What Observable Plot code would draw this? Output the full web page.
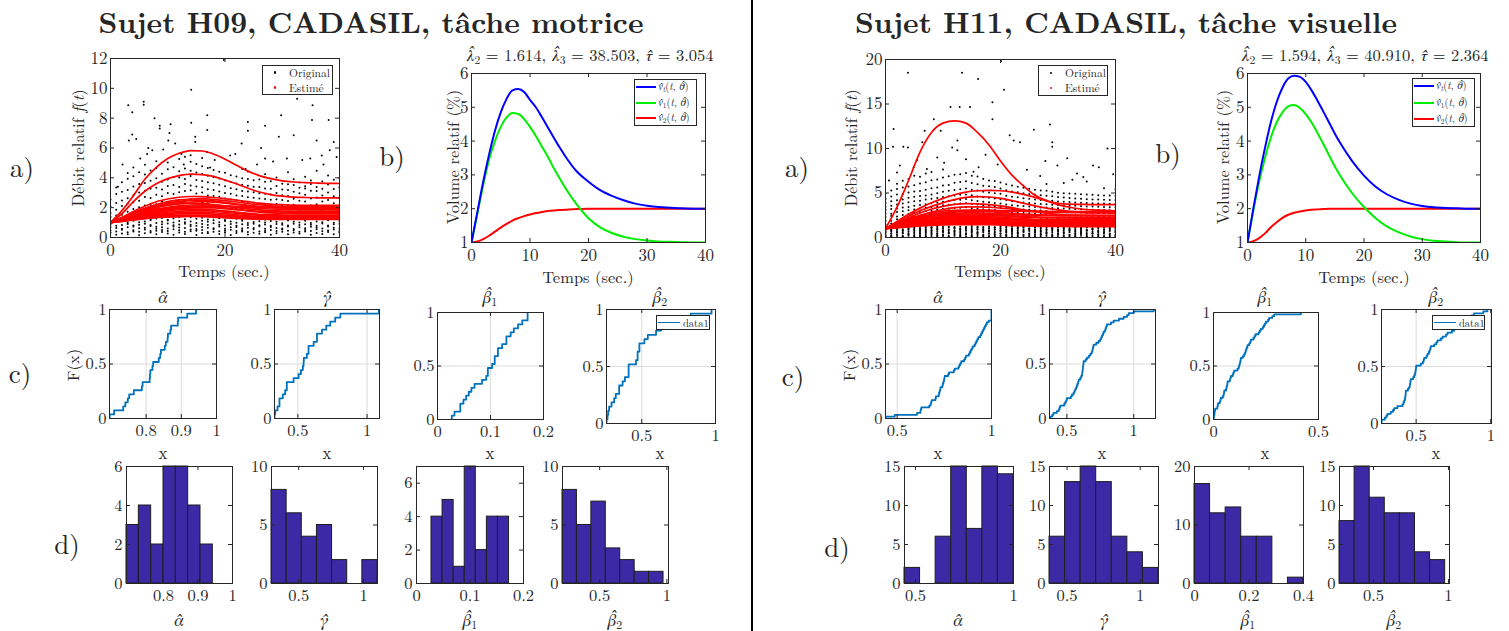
<!DOCTYPE html>
<html><head><meta charset="utf-8">
<script src="https://cdn.jsdelivr.net/npm/d3@7"></script>
<script src="https://cdn.jsdelivr.net/npm/@observablehq/plot@0.6"></script>
<style>
body{margin:0;background:#fff;}
#fig{position:relative;width:1509px;height:631px;overflow:hidden;background:#fff;font-family:"Latin Modern Roman","Liberation Serif",serif;color:#262626}
#fig div{position:absolute;white-space:nowrap;line-height:1;font-family:"Latin Modern Roman","Liberation Serif",serif}
sub{font-size:70%;vertical-align:-0.25em;line-height:0}
.g{font-family:FreeSerif,"DejaVu Serif",serif;font-style:italic}
</style></head><body><div id="fig"></div>
<script>
// ---------------- DATA ----------------
const titleLeft = "Sujet H09, CADASIL, tâche motrice";
const titleRight = "Sujet H11, CADASIL, tâche visuelle";

// a) scatter columns (time in s) and values
const tCols = [0,1,2,3,4,5,6,7,8,9,10,11,12,13,14,15,16,17,18,19,20,21,22,23,24,25,26,27,28,29,30,31,32,33,34,35,36,37,38,39,40];
const blackColsL = [
"0.32 0.47 0.71 0.88 0.96 1.12 1.38 1.64 2.07 2.55","0.18 0.41 0.63 0.79 1.04 1.21 1.47 1.86 2.31 2.92 3.36","0.27 0.52 0.58 0.83 1.09 1.17 1.52 2.12 2.48 3.07 3.71",
"0.22 0.36 0.68 0.91 0.99 1.26 1.73 2.26 2.63 3.18 3.94 4.32","0.41 0.49 0.74 0.81 1.13 1.29 1.91 2.37 2.84 3.42 4.11","0.15 0.38 0.62 0.86 1.02 1.24 2.02 2.46 3.02 3.58 4.38",
"0.29 0.54 0.66 0.93 1.07 1.33 2.14 2.71 3.13 3.66 4.22 4.87","0.34 0.43 0.77 0.84 1.16 1.22 2.19 2.64 3.27 3.81 4.49","0.21 0.46 0.59 0.72 0.97 1.28 2.23 2.86 3.33 3.97 4.64 5.12",
"0.37 0.51 0.69 0.89 1.06 1.31 2.41 2.77 3.21 3.74 4.28","0.26 0.44 0.61 0.94 1.14 1.19 2.36 2.98 3.46 3.89 4.57 5.03","0.19 0.55 0.73 0.82 1.01 1.27 2.29 2.91 3.52 4.06 4.71",
"0.33 0.48 0.67 0.87 1.11 1.35 2.52 3.04 3.38 4.02 4.44 5.26","0.24 0.39 0.64 0.92 1.03 1.23 2.44 3.11 3.58 3.93 4.62 5.41","0.42 0.53 0.76 0.85 1.08 1.36 2.58 3.17 3.49 4.13 4.48 5.08 5.52",
"0.17 0.45 0.57 0.78 0.98 1.25 2.47 2.95 3.42 3.86 4.35 4.92","0.31 0.5 0.7 0.9 1.12 1.32 2.33 3.01 3.37 3.79 4.26 4.78 5.33","0.28 0.37 0.65 0.83 1.05 1.21 2.28 2.82 3.24 3.71 4.14 4.66",
"0.39 0.56 0.62 0.95 1.15 1.34 2.17 2.79 3.19 3.63 4.04 4.52","0.23 0.42 0.74 0.86 1.02 1.29 2.09 2.73 3.08 3.54 3.96 4.41","0.35 0.47 0.58 0.81 1.1 1.18 2.06 2.61 2.99 3.44 3.83 4.34",
"0.16 0.52 0.68 0.91 1.07 1.37 1.96 2.54 2.93 3.31 3.72 4.18","0.3 0.44 0.71 0.79 0.99 1.26 1.93 2.49 2.81 3.23 3.62 4.09","0.4 0.49 0.6 0.88 1.13 1.2 1.84 2.43 2.78 3.12 3.53 3.98 4.6",
"0.2 0.37 0.66 0.84 0.97 1.3 1.81 2.38 2.69 3.09 3.47 3.92 4.43","0.32 0.55 0.63 0.93 1.04 1.24 1.78 2.33 2.66 3.03 3.41 3.84","0.25 0.4 0.75 0.82 1.09 1.33 1.72 2.27 2.62 2.97 3.38 3.89",
"0.36 0.46 0.59 0.87 1.0 1.19 1.69 2.21 2.58 2.94 3.29 3.73 4.24","0.18 0.51 0.7 0.78 1.11 1.28 1.74 2.18 2.53 2.88 3.26 3.77","0.29 0.43 0.64 0.9 1.05 1.35 1.63 2.24 2.57 2.99 3.45 4.02",
"0.38 0.53 0.61 0.85 0.96 1.22 1.67 2.16 2.51 2.83 3.21 3.61","0.22 0.45 0.73 0.8 1.14 1.31 1.71 2.11 2.44 2.79 3.18 3.57 4.37","0.34 0.48 0.57 0.92 1.06 1.25 1.62 2.19 2.59 3.06 3.52 3.91",
"0.27 0.39 0.69 0.83 1.01 1.34 1.77 2.13 2.47 2.96 3.34 3.69","0.41 0.5 0.62 0.89 1.12 1.21 1.68 2.06 2.42 2.86 3.28 3.43 4.08","0.19 0.44 0.72 0.86 0.98 1.29 1.61 2.14 2.61 3.14 3.59 3.82",
"0.31 0.56 0.67 0.79 1.08 1.36 1.73 2.23 2.68 3.11 3.39 4.47","0.24 0.42 0.6 0.94 1.03 1.23 1.79 2.04 2.41 2.82 3.27 3.76","0.37 0.47 0.74 0.81 1.15 1.27 1.64 2.09 2.52 3.01 3.56 4.16",
"0.21 0.53 0.65 0.88 0.99 1.32 1.69 2.29 2.77 3.25 3.87","0.33 0.41 0.58 0.91 1.1 1.24 1.76 2.17 2.64 3.36 3.97"];
const blackOutL = [[1.3,3.4],[2.1,4.9],[3.1,8.87],[3.8,8.4],[3.2,6.5],[3.8,6.9],[4.0,4.7],[4.5,6.6],[5.2,5.3],[5.8,9.1],[5.8,8.9],[6.4,5.6],[6.6,6.0],[7.3,5.85],[7.7,8.0],[8.6,7.5],[8.6,7.3],[9.2,5.9],[10.1,6.5],[10.3,7.0],[10.5,7.6],[11.3,6.3],[12.4,5.6],[12.8,4.9],[14.1,9.9],[14.1,7.7],[14.8,6.75],[14.8,6.4],[16.9,8.2],[16.9,7.2],[16.9,5.74],[17.4,4.7],[18.2,5.2],[19.8,11.9],[20.9,5.5],[21.8,5.6],[22.9,6.3],[23.6,4.6],[24.0,7.15],[24.0,7.75],[25.6,4.9],[26.3,6.0],[27.0,7.5],[27.0,5.3],[28.4,5.1],[29.4,6.75],[29.8,8.2],[30.8,5.3],[32.0,6.86],[32.6,9.3],[33.5,5.2],[34.9,5.3],[35.2,7.87],[35.3,8.87],[36.0,6.5],[36.9,5.5],[37.2,4.9],[38.1,7.87],[38.3,5.85],[39.0,6.4],[39.5,5.4]];

const blackColsR = [
"0.08 0.23 0.31 0.52 0.64 0.77 0.93 1.06 1.18 1.47 1.92 2.28 2.71 3.12 3.49 3.87 4.36 4.95",
"0.13 0.19 0.42 0.48 0.69 0.81 0.88 1.11 1.24 1.56 1.87 2.41 2.66 3.19 3.58 4.07 4.62 5.28",
"0.06 0.27 0.37 0.58 0.61 0.84 0.97 1.03 1.21 1.63 2.04 2.37 2.86 3.27 3.71 4.18 4.83 5.46 6.04",
"0.11 0.16 0.44 0.53 0.72 0.79 0.91 1.13 1.17 1.74 2.12 2.53 2.94 3.36 3.83 4.26 4.88 5.62 6.37",
"0.04 0.29 0.34 0.47 0.67 0.86 0.95 1.08 1.26 1.81 2.17 2.64 3.07 3.44 3.96 4.47 5.07 5.73 6.58",
"0.14 0.21 0.39 0.56 0.74 0.83 0.99 1.14 1.22 1.94 2.33 2.77 3.14 3.57 4.06 4.58 5.16 5.87 6.94",
"0.09 0.25 0.41 0.49 0.62 0.76 0.89 1.02 1.19 2.03 2.42 2.83 3.26 3.66 4.14 4.67 5.23 6.07 6.83",
"0.12 0.18 0.36 0.54 0.68 0.82 0.92 1.09 1.23 2.11 2.47 2.96 3.34 3.74 4.27 4.73 5.36 6.21 7.18",
"0.05 0.28 0.43 0.57 0.73 0.78 0.96 1.12 1.16 2.18 2.63 3.04 3.43 3.86 4.34 4.84 5.52 6.43 7.36",
"0.15 0.22 0.38 0.46 0.66 0.87 0.94 1.07 1.25 2.24 2.68 3.13 3.52 3.94 4.43 4.96 5.63 6.52",
"0.07 0.26 0.33 0.59 0.71 0.8 0.98 1.04 1.2 2.31 2.74 3.21 3.61 4.03 4.54 5.13 5.84 6.74 7.63",
"0.1 0.17 0.45 0.51 0.63 0.85 0.9 1.15 1.24 2.34 2.84 3.23 3.68 4.12 4.63 5.24 5.91 6.88",
"0.03 0.24 0.4 0.55 0.7 0.77 0.97 1.1 1.18 2.43 2.86 3.31 3.73 4.21 4.72 5.33 6.14 7.04",
"0.13 0.2 0.35 0.5 0.65 0.84 0.93 1.01 1.22 2.38 2.92 3.34 3.81 4.23 4.81 5.42 6.23 7.12",
"0.08 0.3 0.42 0.48 0.75 0.81 0.99 1.13 1.17 2.46 2.94 3.39 3.84 4.32 4.83 5.51 6.31 7.24",
"0.12 0.19 0.37 0.56 0.67 0.79 0.91 1.06 1.26 2.32 2.81 3.28 3.77 4.18 4.74 5.37 6.12 6.93",
"0.06 0.27 0.44 0.52 0.61 0.86 0.95 1.14 1.21 2.29 2.77 3.24 3.72 4.09 4.62 5.29 5.98 6.84",
"0.14 0.23 0.32 0.58 0.72 0.83 0.88 1.08 1.19 2.21 2.72 3.17 3.62 4.02 4.53 5.14 5.82 6.57",
"0.09 0.16 0.41 0.47 0.69 0.76 0.98 1.03 1.24 2.16 2.69 3.16 3.58 3.97 4.48 5.06 5.77 6.41",
"0.11 0.28 0.36 0.53 0.64 0.88 0.92 1.11 1.16 2.23 2.66 3.09 3.49 3.88 4.37 4.98 5.68 6.36",
"0.04 0.21 0.43 0.49 0.74 0.8 0.96 1.07 1.23 2.08 2.58 2.97 3.39 3.82 4.29 4.91 5.51 6.17",
"0.15 0.25 0.34 0.57 0.66 0.78 0.94 1.12 1.2 2.12 2.49 2.93 3.32 3.71 4.22 4.68 5.32 5.97",
"0.07 0.18 0.39 0.51 0.71 0.85 0.9 1.05 1.25 1.98 2.46 2.87 3.29 3.63 4.07 4.59 5.18 5.83",
"0.1 0.29 0.45 0.54 0.62 0.82 0.97 1.09 1.18 2.02 2.38 2.81 3.21 3.57 3.99 4.52 5.09 5.71",
"0.05 0.22 0.31 0.59 0.68 0.79 0.93 1.15 1.22 1.91 2.36 2.76 3.14 3.54 3.92 4.41 4.97 5.58",
"0.13 0.26 0.42 0.46 0.73 0.87 0.99 1.02 1.24 1.94 2.29 2.72 3.11 3.47 3.89 4.36 4.88 5.47",
"0.08 0.17 0.37 0.55 0.65 0.81 0.89 1.13 1.17 1.86 2.27 2.66 3.06 3.42 3.82 4.28 4.82 5.36",
"0.12 0.3 0.33 0.5 0.7 0.77 0.95 1.06 1.21 1.83 2.22 2.63 3.02 3.38 3.77 4.21 4.74 5.27",
"0.03 0.24 0.44 0.52 0.63 0.84 0.91 1.1 1.26 1.79 2.19 2.61 2.98 3.36 3.74 4.17 4.68 5.24 6.02",
"0.14 0.2 0.35 0.57 0.74 0.86 0.98 1.04 1.19 1.84 2.23 2.57 2.93 3.31 3.69 4.12 4.63 5.13",
"0.06 0.28 0.4 0.48 0.67 0.78 0.92 1.14 1.23 1.77 2.14 2.54 2.91 3.28 3.66 4.04 4.54 5.04",
"0.11 0.19 0.43 0.53 0.61 0.82 0.96 1.08 1.16 1.73 2.16 2.51 2.87 3.26 3.61 4.01 4.49 4.98 6.12",
"0.09 0.25 0.32 0.58 0.72 0.85 0.9 1.01 1.25 1.76 2.11 2.48 2.86 3.22 3.58 3.98 4.43 4.94",
"0.15 0.21 0.38 0.47 0.66 0.79 0.94 1.12 1.2 1.71 2.08 2.46 2.83 3.18 3.56 3.94 4.39 4.92",
"0.04 0.27 0.41 0.56 0.69 0.83 0.99 1.07 1.18 1.68 2.06 2.44 2.81 3.17 3.52 3.91 4.36 4.87",
"0.12 0.16 0.36 0.51 0.75 0.8 0.88 1.11 1.22 1.72 2.09 2.43 2.78 3.14 3.49 3.87 4.31 4.83 6.28",
"0.07 0.23 0.45 0.49 0.64 0.87 0.93 1.03 1.24 1.66 2.04 2.41 2.77 3.12 3.48 3.84 4.28 4.79",
"0.1 0.29 0.34 0.54 0.71 0.76 0.97 1.15 1.19 1.69 2.07 2.38 2.74 3.09 3.46 3.83 4.26 4.76",
"0.05 0.18 0.42 0.59 0.63 0.84 0.91 1.09 1.21 1.64 2.02 2.39 2.73 3.08 3.43 3.81 4.23 4.72 5.52",
"0.13 0.26 0.39 0.46 0.73 0.81 0.95 1.06 1.17 1.67 2.03 2.36 2.71 3.06 3.41 3.78 4.21 4.71",
"0.08 0.2 0.31 0.57 0.66 0.78 0.98 1.13 1.26 1.63 1.99 2.34 2.69 3.04 3.39 3.76 4.19 4.68 5.41"];
const blackOutR = [[3.9,18.5],[13.3,18.5],[16.1,17.8],[20.6,16.6],[20.1,19.8],[18.6,15.2],[12.9,14.65],[11.3,14.65],[14.7,14.65],[8.4,13.3],[18.6,13.3],[6.8,12.0],[9.6,12.0],[25.8,12.1],[28.6,12.7],[1.4,12.2],[1.3,10.2],[3.1,10.2],[3.9,10.1],[2.5,8.1],[11.6,10.1],[12.5,10.9],[12.5,9.8],[21.6,11.5],[22.3,10.9],[23.4,10.7],[29.0,10.7],[29.0,10.2],[38.6,10.0],[29.9,8.1],[31.6,8.9],[36.1,8.1],[37.1,7.9],[33.3,7.2],[5.5,8.7],[4.9,7.9],[7.2,7.7],[16.2,7.9],[6.4,10.7],[9.0,9.0],[10.2,8.4],[14.0,8.8],[15.3,7.4],[17.4,9.3],[19.5,8.2],[24.6,7.6],[26.9,6.9],[34.4,6.8],[39.6,7.1],[2.0,7.3],[0.6,6.4],[27.8,8.6],[32.5,6.5]];

// a) estimated curves, sampled every 2 s
const tCurve = [0,2,4,6,8,10,12,14,16,18,20,22,24,26,28,30,32,34,36,38,40];
const redCurvesL = [
[1.0,1.8,2.8,3.9,4.7,5.3,5.65,5.83,5.8,5.6,5.25,4.85,4.45,4.15,3.95,3.8,3.72,3.68,3.65,3.63,3.62],
[1.0,1.6,2.4,3.1,3.6,3.95,4.15,4.25,4.22,4.1,3.85,3.6,3.3,3.05,2.88,2.77,2.71,2.68,2.66,2.65,2.65],
[1.0,1.35,1.75,2.1,2.4,2.58,2.7,2.75,2.74,2.68,2.6,2.5,2.4,2.3,2.24,2.2,2.17,2.16,2.15,2.15,2.15],
[1.0,1.3,1.65,1.95,2.2,2.4,2.52,2.58,2.6,2.55,2.47,2.38,2.28,2.2,2.13,2.09,2.07,2.06,2.05,2.05,2.05],
[1.0,1.28,1.58,1.85,2.07,2.23,2.33,2.38,2.4,2.37,2.3,2.22,2.14,2.07,2.02,1.98,1.96,1.95,1.95,1.95,1.95],
[1.0,1.27,1.55,1.8,2.0,2.15,2.25,2.3,2.28,2.2,2.1,2.0,1.92,1.85,1.8,1.77,1.76,1.75,1.75,1.75,1.75],
[1.0,1.25,1.5,1.72,1.9,2.03,2.12,2.18,2.2,2.18,2.13,2.06,2.0,1.95,1.91,1.88,1.86,1.85,1.85,1.85,1.85],
[1.0,1.22,1.45,1.65,1.82,1.95,2.04,2.09,2.1,2.06,1.98,1.88,1.78,1.7,1.65,1.62,1.61,1.6,1.6,1.6,1.6],
[1.0,1.2,1.42,1.6,1.76,1.88,1.95,1.99,2.0,1.98,1.93,1.86,1.8,1.76,1.73,1.71,1.7,1.7,1.7,1.7,1.7],
[1.0,1.18,1.37,1.54,1.68,1.79,1.86,1.9,1.9,1.86,1.79,1.7,1.62,1.56,1.53,1.51,1.5,1.5,1.5,1.5,1.5],
[1.0,1.16,1.32,1.47,1.6,1.7,1.76,1.8,1.8,1.77,1.7,1.62,1.55,1.5,1.47,1.46,1.45,1.45,1.45,1.45,1.45],
[1.0,1.14,1.28,1.42,1.53,1.62,1.67,1.7,1.7,1.66,1.6,1.52,1.45,1.41,1.38,1.36,1.35,1.35,1.35,1.35,1.35],
[1.0,1.12,1.25,1.37,1.47,1.54,1.58,1.6,1.6,1.57,1.5,1.43,1.37,1.33,1.31,1.3,1.3,1.3,1.3,1.3,1.3],
[1.0,1.1,1.22,1.32,1.4,1.46,1.49,1.5,1.5,1.47,1.41,1.36,1.31,1.28,1.26,1.25,1.25,1.25,1.25,1.25,1.25],
[1.0,1.08,1.18,1.27,1.34,1.38,1.4,1.41,1.4,1.37,1.32,1.28,1.25,1.23,1.22,1.22,1.22,1.22,1.22,1.22,1.22],
[1.0,1.1,1.2,1.28,1.34,1.38,1.41,1.43,1.44,1.44,1.43,1.42,1.41,1.4,1.4,1.4,1.4,1.4,1.4,1.4,1.4],
[1.0,1.2,1.4,1.6,1.75,1.87,1.96,2.03,2.08,2.1,2.1,2.08,2.06,2.04,2.02,2.01,2.0,2.0,2.0,2.0,2.0],
[1.0,1.3,1.62,1.9,2.12,2.3,2.42,2.5,2.5,2.45,2.35,2.24,2.15,2.08,2.03,2.0,1.98,1.97,1.97,1.96,1.96]];
const redCurvesR = [
[1.0,3.4,6.4,9.6,11.8,12.85,13.1,12.85,11.8,10.4,8.6,7.0,5.8,4.75,4.15,3.85,3.75,3.72,3.7,3.7,3.7],
[1.0,1.8,2.6,3.3,3.9,4.4,4.8,5.1,5.25,5.3,5.25,5.1,4.85,4.5,4.1,3.7,3.4,3.2,3.1,3.05,3.0],
[1.0,1.7,2.4,3.0,3.5,3.9,4.25,4.5,4.6,4.55,4.4,4.15,3.85,3.55,3.3,3.1,2.95,2.85,2.8,2.78,2.77],
[1.0,1.6,2.2,2.75,3.2,3.5,3.72,3.8,3.78,3.7,3.55,3.35,3.1,2.9,2.72,2.6,2.52,2.5,2.48,2.47,2.47],
[1.0,1.6,2.1,2.5,2.8,2.97,3.05,3.08,3.08,3.05,3.0,2.97,2.95,2.93,2.92,2.91,2.9,2.9,2.9,2.9,2.9],
[1.0,1.5,1.95,2.3,2.6,2.8,2.9,2.95,2.95,2.9,2.82,2.72,2.63,2.56,2.52,2.5,2.49,2.48,2.48,2.48,2.48],
[1.0,1.45,1.85,2.2,2.45,2.62,2.72,2.76,2.76,2.72,2.65,2.58,2.52,2.48,2.45,2.43,2.42,2.42,2.42,2.42,2.42],
[1.0,1.4,1.78,2.1,2.35,2.5,2.6,2.64,2.64,2.6,2.52,2.43,2.35,2.28,2.23,2.2,2.19,2.18,2.18,2.18,2.18],
[1.0,1.35,1.7,2.0,2.22,2.38,2.48,2.52,2.52,2.48,2.42,2.35,2.3,2.26,2.24,2.23,2.22,2.22,2.22,2.22,2.22],
[1.0,1.3,1.62,1.9,2.1,2.25,2.34,2.38,2.38,2.34,2.27,2.19,2.11,2.05,2.01,1.99,1.98,1.97,1.97,1.97,1.97],
[1.0,1.28,1.55,1.8,2.0,2.13,2.21,2.25,2.25,2.21,2.14,2.06,1.99,1.94,1.91,1.9,1.89,1.89,1.89,1.89,1.89],
[1.0,1.25,1.5,1.72,1.9,2.02,2.1,2.13,2.13,2.1,2.04,1.97,1.9,1.85,1.82,1.8,1.8,1.8,1.8,1.8,1.8],
[1.0,1.22,1.44,1.64,1.8,1.91,1.98,2.01,2.01,1.98,1.92,1.85,1.78,1.73,1.7,1.68,1.67,1.67,1.67,1.67,1.67],
[1.0,1.2,1.4,1.57,1.71,1.81,1.87,1.9,1.9,1.87,1.81,1.74,1.68,1.63,1.6,1.58,1.57,1.57,1.57,1.57,1.57],
[1.0,1.17,1.34,1.5,1.62,1.71,1.76,1.78,1.78,1.75,1.7,1.63,1.57,1.52,1.49,1.47,1.46,1.46,1.46,1.46,1.46],
[1.0,1.14,1.28,1.41,1.52,1.6,1.65,1.67,1.67,1.64,1.58,1.52,1.46,1.42,1.39,1.37,1.36,1.36,1.36,1.36,1.36],
[1.0,1.12,1.24,1.35,1.44,1.5,1.54,1.56,1.56,1.53,1.48,1.42,1.37,1.33,1.3,1.29,1.28,1.28,1.28,1.28,1.28],
[1.0,1.1,1.2,1.29,1.36,1.41,1.44,1.45,1.45,1.43,1.39,1.34,1.3,1.27,1.25,1.24,1.23,1.23,1.23,1.23,1.23],
[1.0,1.4,1.8,2.15,2.45,2.7,2.88,3.0,3.05,3.05,3.02,2.98,2.95,2.92,2.9,2.88,2.87,2.86,2.86,2.86,2.86],
[1.0,1.5,2.0,2.45,2.85,3.15,3.35,3.45,3.45,3.4,3.3,3.18,3.05,2.95,2.88,2.83,2.8,2.78,2.77,2.77,2.77]];

// b) volume curves
const tB = [0,1,2,3,4,5,6,7,8,9,10,11,12,13,14,15,16,18,20,22,24,26,28,30,32,34,36,38,40];
const bL_vt = [1.0,1.9,2.8,3.6,4.3,4.85,5.25,5.5,5.54,5.45,5.22,5.0,4.72,4.42,4.12,3.83,3.56,3.1,2.8,2.55,2.38,2.25,2.15,2.09,2.05,2.03,2.01,2.0,2.0];
const bL_v1 = [1.0,1.85,2.7,3.45,4.0,4.42,4.7,4.83,4.8,4.65,4.42,4.15,3.85,3.55,3.22,2.92,2.63,2.12,1.72,1.45,1.28,1.17,1.1,1.06,1.03,1.02,1.01,1.0,1.0];
const bL_v2 = [1.0,1.03,1.1,1.2,1.32,1.44,1.55,1.65,1.72,1.78,1.83,1.87,1.9,1.93,1.95,1.96,1.97,1.99,2.0,2.0,2.0,2.0,2.0,2.0,2.0,2.0,2.0,2.0,2.0];
const bR_vt = [1.0,2.0,2.95,3.8,4.55,5.15,5.58,5.85,5.93,5.9,5.75,5.5,5.2,4.88,4.55,4.22,3.92,3.4,2.98,2.65,2.42,2.26,2.15,2.08,2.04,2.02,2.01,2.0,2.0];
const bR_v1 = [1.0,1.95,2.8,3.5,4.1,4.55,4.85,5.03,5.07,4.98,4.8,4.55,4.25,3.92,3.58,3.25,2.95,2.45,2.05,1.72,1.47,1.3,1.18,1.1,1.05,1.03,1.01,1.0,1.0];
const bR_v2 = [1.0,1.04,1.13,1.27,1.45,1.6,1.73,1.82,1.88,1.92,1.95,1.97,1.98,1.99,2.0,2.0,2.0,2.0,2.0,2.0,2.0,2.0,2.0,2.0,2.0,2.0,2.0,2.0,2.0];
const paramsL = ["1.614","38.503","3.054"];
const paramsR = ["1.594","40.910","2.364"];

// c) estimated parameter samples (empirical CDF)
const sL_alpha = [0.696,0.709,0.735,0.741,0.748,0.752,0.765,0.788,0.790,0.810,0.811,0.812,0.818,0.820,0.836,0.840,0.842,0.853,0.856,0.861,0.862,0.869,0.871,0.890,0.891,0.917,0.942];
const sL_gamma = [0.331,0.336,0.353,0.367,0.367,0.391,0.408,0.42,0.42,0.469,0.505,0.522,0.536,0.541,0.543,0.565,0.577,0.577,0.614,0.638,0.638,0.674,0.705,0.734,0.77,0.807,1.085];
const sL_beta1 = [0.027,0.032,0.043,0.043,0.049,0.054,0.059,0.064,0.070,0.084,0.092,0.095,0.095,0.103,0.108,0.108,0.114,0.114,0.122,0.130,0.130,0.138,0.144,0.152,0.160,0.170,0.170];
const sL_beta2 = [0.261,0.268,0.272,0.279,0.295,0.313,0.324,0.347,0.347,0.370,0.386,0.411,0.411,0.411,0.461,0.472,0.472,0.484,0.484,0.518,0.541,0.597,0.632,0.68,0.734,0.832,0.973];
const sR_alpha = [0.438,0.487,0.605,0.623,0.625,0.628,0.67,0.677,0.68,0.683,0.703,0.705,0.72,0.722,0.725,0.728,0.73,0.74,0.742,0.745,0.748,0.75,0.752,0.77,0.775,0.8,0.805,0.825,0.83,0.835,0.84,0.855,0.86,0.865,0.88,0.885,0.89,0.895,0.9,0.91,0.915,0.92,0.925,0.93,0.94,0.945,0.95,0.955,0.96,0.965,0.97,0.975,0.985,1.0,1.0,1.0,1.0,1.0,1.0];
const sR_gamma = [0.375,0.39,0.40,0.425,0.44,0.445,0.45,0.48,0.488,0.495,0.5,0.53,0.538,0.55,0.557,0.563,0.57,0.575,0.58,0.585,0.588,0.6,0.607,0.613,0.615,0.617,0.619,0.62,0.622,0.624,0.625,0.64,0.65,0.665,0.675,0.685,0.69,0.693,0.697,0.70,0.72,0.738,0.75,0.757,0.763,0.77,0.775,0.785,0.79,0.795,0.80,0.83,0.85,0.89,0.925,0.95,0.963,1.0,1.15];
const sR_beta1 = [0.0,0.002,0.004,0.005,0.006,0.008,0.018,0.02,0.022,0.03,0.033,0.035,0.045,0.048,0.05,0.051,0.06,0.062,0.064,0.066,0.067,0.078,0.08,0.083,0.092,0.095,0.098,0.114,0.12,0.122,0.125,0.127,0.129,0.13,0.14,0.146,0.15,0.153,0.156,0.159,0.162,0.17,0.175,0.178,0.19,0.195,0.2,0.215,0.22,0.225,0.235,0.24,0.245,0.25,0.26,0.265,0.28,0.289,0.416];
const sR_beta2 = [0.268,0.27,0.29,0.3,0.308,0.33,0.345,0.353,0.375,0.409,0.415,0.42,0.425,0.427,0.429,0.43,0.431,0.445,0.453,0.458,0.46,0.462,0.464,0.48,0.487,0.492,0.495,0.497,0.499,0.5,0.531,0.545,0.55,0.554,0.57,0.576,0.585,0.59,0.595,0.598,0.621,0.635,0.643,0.665,0.677,0.7,0.71,0.74,0.755,0.765,0.777,0.8,0.815,0.83,0.844,0.87,0.888,0.95,0.978];

// d) histograms: bin range and counts
const hL_alpha_range = [0.693,0.943], hL_alpha = [3,4,2,6,6,4,2];
const hL_gamma_range = [0.29,1.108],  hL_gamma = [8,6,4,5,2,0,2];
const hL_beta1_range = [0.028,0.173], hL_beta1 = [4,5,1,7,2,4,4];
const hL_beta2_range = [0.224,0.975], hL_beta2 = [8,5,7,3,2,1,1];
const hR_alpha_range = [0.444,1.0],   hR_alpha = [2,0,6,15,7,15,14];
const hR_gamma_range = [0.38,1.125],  hR_gamma = [6,13,15,13,6,4,2];
const hR_beta1_range = [0.0,0.4],     hR_beta1 = [17,12,13,8,8,0,1];
const hR_beta2_range = [0.273,0.978], hR_beta2 = [8,15,11,9,9,4,3];

// ---------------- DRAWING ----------------
const FONT = '"Latin Modern Roman","Liberation Serif",serif';
const AX = "#262626";
const HIST = "#3b29a6";
const CDFC = "#0072BD";
const fig = document.getElementById("fig");
const fmt = d => String(d);
const hat = (ch, sub) => `<span class="g">${ch}\u0302</span>` + (sub ? `<sub>${sub}</sub>` : "");

function panel(box, o) {
  const [x0,y0,x1,y1] = box, W = x1-x0, H = y1-y0;
  const m = {l:55, r:15, t:15, b:45};
  const [xa,xb] = o.x, [ya,yb] = o.y;
  const tx = 4*(xb-xa)/W, ty = 4*(yb-ya)/H;
  const marks = [];
  if (o.grid) {
    marks.push(Plot.ruleX(o.xt, {x:d=>d, stroke:"#dcdcdc"}));
    marks.push(Plot.ruleY(o.yt, {y:d=>d, stroke:"#dcdcdc"}));
  }
  marks.push(...o.marks);
  marks.push(Plot.ruleX(o.xt, {x:d=>d, y1:ya, y2:ya+ty, stroke:AX}));
  marks.push(Plot.ruleX(o.xt, {x:d=>d, y1:yb, y2:yb-ty, stroke:AX}));
  marks.push(Plot.ruleY(o.yt, {y:d=>d, x1:xa, x2:xa+tx, stroke:AX}));
  marks.push(Plot.ruleY(o.yt, {y:d=>d, x1:xb, x2:xb-tx, stroke:AX}));
  marks.push(Plot.frame({stroke:AX, strokeWidth:1}));
  marks.push(Plot.axisX(o.xt, {tickSize:0, tickPadding:o.px ?? 6, tickFormat:fmt, label:null, fontSize:o.fs, fontFamily:FONT, fill:AX}));
  marks.push(Plot.axisY(o.yt, {tickSize:0, tickPadding:o.py ?? 4, tickFormat:fmt, label:null, fontSize:o.fs, fontFamily:FONT, fill:AX}));
  const svg = Plot.plot({
    width: W+m.l+m.r, height: H+m.t+m.b,
    marginLeft:m.l, marginRight:m.r, marginTop:m.t, marginBottom:m.b,
    x:{domain:o.x}, y:{domain:o.y},
    style:{"font-family":FONT, "font-size":o.fs+"px", "color":AX, "background":"transparent", "overflow":"visible", "max-width":"none"},
    marks
  });
  svg.setAttribute("font-family", FONT);
  svg.style.position = "absolute";
  svg.style.left = (x0-m.l)+"px";
  svg.style.top = (y0-m.t)+"px";
  svg.style.maxWidth = "none";
  svg.style.fontFamily = FONT;
  fig.appendChild(svg);
}

function txt(html, cx, cy, o = {}) {
  const d = document.createElement("div");
  d.innerHTML = html;
  d.style.left = cx+"px"; d.style.top = cy+"px";
  d.style.transform = `translate(-50%,-50%) rotate(${o.rot||0}deg)`;
  d.style.fontSize = (o.size||17)+"px";
  d.style.fontWeight = o.weight || "normal";
  fig.appendChild(d);
  return d;
}
function box(x0,y0,x1,y1) {
  const d = document.createElement("div");
  d.style.cssText = `left:${x0}px;top:${y0}px;width:${x1-x0}px;height:${y1-y0}px;border:1px solid ${AX};background:#fff;box-sizing:border-box`;
  fig.appendChild(d);
}
function lineGlyph(x0,x1,y,color,w=2) {
  const d = document.createElement("div");
  d.style.cssText = `left:${x0}px;top:${y-w/2}px;width:${x1-x0}px;height:${w}px;background:${color}`;
  fig.appendChild(d);
}
function dotGlyph(x,y,color) {
  const d = document.createElement("div");
  d.style.cssText = `left:${x-1.2}px;top:${y-1.2}px;width:2.4px;height:2.4px;border-radius:50%;background:${color}`;
  fig.appendChild(d);
}
function ltxt(html, x, cy, size) {
  const d = document.createElement("div");
  d.innerHTML = html;
  d.style.left = x+"px"; d.style.top = cy+"px";
  d.style.transform = "translateY(-50%)";
  d.style.fontSize = size+"px";
  fig.appendChild(d);
}

const scatterPts = (cols, outs) => cols.flatMap((s,i) => s.split(" ").map(v => ({t:tCols[i], v:+v})))
  .concat(outs.map(([t,v]) => ({t, v})));
const curvePts = curves => curves.flatMap((c,k) => c.map((v,i) => ({t:tCurve[i], v, k})));
const cdfPts = vals => { const s = vals.slice().sort((a,b)=>a-b), n = s.length;
  return [{x:s[0], y:0}].concat(s.map((v,i) => ({x:v, y:(i+1)/n}))); };
const binsOf = (range, counts) => { const [lo,hi] = range, w = (hi-lo)/counts.length;
  return counts.map((c,i) => ({x1:lo+i*w, x2:lo+(i+1)*w, c})); };

function scatterPanel(bx, ymax, yt, cols, outs, curves) {
  panel(bx, {x:[0,40], y:[0,ymax], xt:[0,20,40], yt, fs:17, px:6, py:3, marks:[
    Plot.dot(scatterPts(cols, outs), {x:"t", y:"v", r:1.0, fill:"#000", stroke:null, clip:true}),
    Plot.line(curvePts(curves), {x:"t", y:"v", z:"k", stroke:"#ff0000", strokeWidth:1.7, curve:"monotone-x", clip:true})
  ]});
}
function volumePanel(bx, vt, v1, v2) {
  const rows = (arr) => arr.map((v,i) => ({t:tB[i], v}));
  panel(bx, {x:[0,40], y:[1,6], xt:[0,10,20,30,40], yt:[1,2,3,4,5,6], fs:17, px:6, py:3, marks:[
    Plot.line(rows(v2), {x:"t", y:"v", stroke:"#ff0000", strokeWidth:2, curve:"monotone-x", clip:true}),
    Plot.line(rows(v1), {x:"t", y:"v", stroke:"#00ee00", strokeWidth:2, curve:"monotone-x", clip:true}),
    Plot.line(rows(vt), {x:"t", y:"v", stroke:"#0000ff", strokeWidth:2, curve:"monotone-x", clip:true})
  ]});
}
function cdfPanel(bx, xd, xt, vals) {
  panel(bx, {x:xd, y:[0,1], xt, yt:[0,0.5,1], fs:16.5, px:6, py:3, grid:true, marks:[
    Plot.line(cdfPts(vals), {x:"x", y:"y", curve:"step-after", stroke:CDFC, strokeWidth:1.8, clip:true})
  ]});
}
function histPanel(bx, xd, yd, xt, yt, range, counts) {
  panel(bx, {x:xd, y:yd, xt, yt, fs:16.5, px:6, py:4, marks:[
    Plot.rect(binsOf(range, counts), {x1:"x1", x2:"x2", y1:d=>0, y2:"c", fill:HIST, stroke:"#1e1e1e", strokeWidth:1, inset:0})
  ]});
}

// ---- Left figure ----
scatterPanel([110,58,339,237], 12, [0,2,4,6,8,10,12], blackColsL, blackOutL, redCurvesL);
volumePanel([471,73,705,242], bL_vt, bL_v1, bL_v2);
cdfPanel([109,309,216,418], [0.696,1], [0.8,0.9,1], sL_alpha);
cdfPanel([274,309,379,418], [0.331,1.09], [0.5,1], sL_gamma);
cdfPanel([437,312,543,419], [0,0.2], [0,0.1,0.2], sL_beta1);
cdfPanel([606,309,715,423], [0.261,1.0], [0.5,1], sL_beta2);
histPanel([126,466,232,583], [0.693,1.0], [0,6], [0.8,0.9,1], [0,2,4,6], hL_alpha_range, hL_alpha);
histPanel([271,466,377,583], [0.29,1.108], [0,10], [0.5,1], [0,5,10], hL_gamma_range, hL_gamma);
histPanel([416,466,523,583], [0,0.2], [0,7], [0,0.1,0.2], [0,2,4,6], hL_beta1_range, hL_beta1);
histPanel([562,466,668,583], [0.224,1.012], [0,10], [0.5,1], [0,5,10], hL_beta2_range, hL_beta2);

// ---- Right figure ----
scatterPanel([885,59,1115,237], 20, [0,5,10,15,20], blackColsR, blackOutR, redCurvesR);
volumePanel([1247,73,1480,242], bR_vt, bR_v1, bR_v2);
cdfPanel([885,309,991,418], [0.438,1], [0.5,1], sR_alpha);
cdfPanel([1049,309,1155,418], [0.37,1.163], [0.5,1], sR_gamma);
cdfPanel([1213,312,1318,419], [0,0.5], [0,0.5], sR_beta1);
cdfPanel([1381,309,1491,423], [0.268,1.005], [0.5,1], sR_beta2);
histPanel([904,466,1013,583], [0.444,1.0], [0,15], [0.5,1], [0,5,10,15], hR_alpha_range, hR_alpha);
histPanel([1049,466,1158,583], [0.38,1.125], [0,15], [0.5,1], [0,5,10,15], hR_gamma_range, hR_gamma);
histPanel([1194,466,1303,583], [0,0.4], [0,20], [0,0.2,0.4], [0,10,20], hR_beta1_range, hR_beta1);
histPanel([1339,466,1449,583], [0.273,1.007], [0,15], [0.5,1], [0,5,10,15], hR_beta2_range, hR_beta2);

// ---- Divider ----
{ const d = document.createElement("div"); d.style.cssText = "left:751px;top:0;width:1.5px;height:631px;background:#000"; fig.appendChild(d); }

// ---- Titles ----
txt(titleLeft, 371, 22, {size:29.5, weight:"bold"});
txt(titleRight, 1126, 22, {size:29.5, weight:"bold"});

// ---- Panel letters ----
[["a)",22,166],["b)",392,155],["c)",20,372],["d)",67,543],["a)",797,166],["b)",1168,152],["c)",793,375],["d)",837,546]]
  .forEach(([s,x,y]) => txt(s, x, y, {size:27}));

// ---- Axis labels ----
const fT = 16.5;
txt("Temps (sec.)", 224, 270, {size:fT});
txt("Temps (sec.)", 1000, 270, {size:fT});
txt("Temps (sec.)", 588, 276, {size:fT});
txt("Temps (sec.)", 1364, 276, {size:fT});
txt("Débit relatif <i>f</i>(<i>t</i>)", 77, 148, {size:fT, rot:-90});
txt("Débit relatif <i>f</i>(<i>t</i>)", 850, 148, {size:fT, rot:-90});
txt("Volume relatif (%)", 452, 157, {size:fT, rot:-90});
txt("Volume relatif (%)", 1222, 157, {size:fT, rot:-90});
txt("F(x)", 72, 365, {size:fT, rot:-90});
txt("F(x)", 848, 365, {size:fT, rot:-90});

// b) titles
const bTitle = p => `${hat("λ","2")} = ${p[0]}, ${hat("λ","3")} = ${p[1]}, ${hat("τ")} = ${p[2]}`;
txt(bTitle(paramsL), 590, 55, {size:16.5});
txt(bTitle(paramsR), 1365, 55, {size:16.5});

// c) titles and x labels ; d) x labels
const pNames = [hat("α"), hat("γ"), hat("β","1"), hat("β","2")];
[[163,327,490,660],[938,1102,1265,1436]].forEach(xs => xs.forEach((x,i) => {
  txt(pNames[i], x, 297, {size:17});
  txt("x", x, 452, {size:17});
}));
[[179,324,470,615],[958,1104,1248,1394]].forEach(xs => xs.forEach((x,i) => {
  txt(pNames[i], x, 620, {size:17});
}));

// ---- Legends ----
[[262,65,333,95],[1038,65,1108,96]].forEach(([x0,y0,x1,y1]) => {
  box(x0,y0,x1,y1);
  const ym = (y0+y1)/2;
  dotGlyph(x0+13, ym-7.5, "#000"); ltxt("Original", x0+27, ym-7.5, 11.5);
  dotGlyph(x0+13, ym+7.5, "#f00"); ltxt("Estimé", x0+27, ym+7.5, 11.5);
});
[[634,79,697,126],[1412,78,1475,127]].forEach(([x0,y0,x1,y1]) => {
  box(x0,y0,x1,y1);
  const h = (y1-y0)/3;
  const th = `(<i>t</i>, ${hat("θ")})`;
  const labs = [hat("v","<i>t</i>")+th, hat("v","1")+th, hat("v","2")+th];
  ["#0000ff","#00ee00","#ff0000"].forEach((c,i) => {
    const y = y0 + h*(i+0.5);
    lineGlyph(x0+2, x0+22, y, c, 2);
    ltxt(labs[i], x0+24, y, 10.5);
  });
});
[[656,315,710,330],[1432,315,1485,330]].forEach(([x0,y0,x1,y1]) => {
  box(x0,y0,x1,y1);
  const y = (y0+y1)/2;
  lineGlyph(x0+2, x0+24, y, CDFC, 1.8);
  ltxt("data1", x0+27, y, 10.5);
});
</script></body></html>
